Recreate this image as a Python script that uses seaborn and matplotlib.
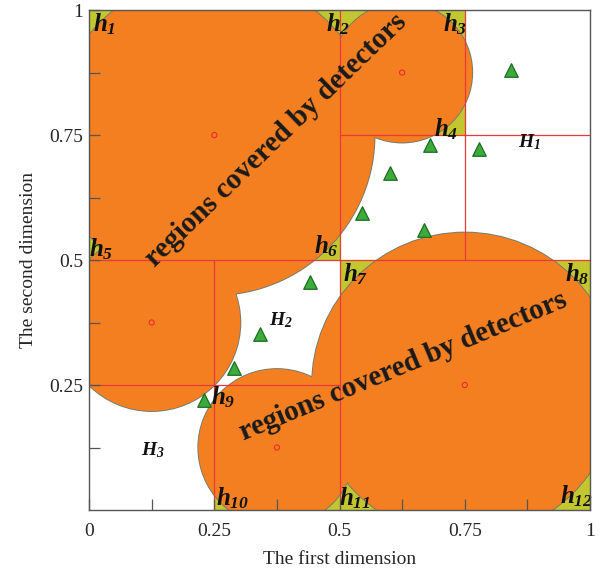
import numpy as np
import pandas as pd
import matplotlib
matplotlib.use("Agg")
import matplotlib.pyplot as plt
from matplotlib.patches import Circle, Rectangle
import seaborn as sns

# Detector centres and radii
det_x = [0.25, 0.625, 0.125, 0.375, 0.75]
det_y = [0.75, 0.875, 0.375, 0.125, 0.25]
det_r = [0.32, 0.14, 0.177, 0.157, 0.305]

# Cells whose uncovered corners are holes (x0, y0, width, height)
cell_x0 = [0.0, 0.5, 0.5, 0.25]
cell_y0 = [0.5, 0.75, 0.0, 0.0]
cell_w = [0.5, 0.25, 0.5, 0.25]
cell_h = [0.5, 0.25, 0.5, 0.125]

# Samples (triangles)
samp_x = [0.842, 0.681, 0.778, 0.601, 0.545, 0.669, 0.442, 0.341, 0.289, 0.23]
samp_y = [0.880, 0.730, 0.722, 0.674, 0.594, 0.560, 0.456, 0.352, 0.284, 0.220]

# Partition lines: (x0, x1, y0, y1)
seg_x0 = [0.5, 0.0, 0.5, 0.75, 0.0, 0.25]
seg_x1 = [0.5, 1.0, 1.0, 0.75, 0.5, 0.25]
seg_y0 = [0.0, 0.5, 0.75, 0.5, 0.25, 0.0]
seg_y1 = [1.0, 0.5, 0.75, 1.0, 0.25, 0.5]

# Hole labels
hole_lbl = [r"$h_{1}$", r"$h_{2}$", r"$h_{3}$", r"$h_{4}$", r"$h_{5}$", r"$h_{6}$",
            r"$h_{7}$", r"$h_{8}$", r"$h_{9}$", r"$h_{10}$", r"$h_{11}$", r"$h_{12}$"]
hole_x = [0.030, 0.497, 0.730, 0.713, 0.024, 0.473, 0.533, 0.975, 0.268, 0.287, 0.531, 0.974]
hole_y = [0.972, 0.972, 0.972, 0.762, 0.522, 0.528, 0.472, 0.472, 0.226, 0.024, 0.024, 0.028]

big_lbl = [r"$H_{1}$", r"$H_{2}$", r"$H_{3}$"]
big_x = [0.880, 0.383, 0.127]
big_y = [0.735, 0.380, 0.120]

xticks = [0, 0.25, 0.5, 0.75, 1]
xtick_lbl = ["0", "0.25", "0.5", "0.75", "1"]
yticks = [0.25, 0.5, 0.75, 1]
ytick_lbl = ["0.25", "0.5", "0.75", "1"]

sns.set_theme(style="white")
plt.rcParams["font.family"] = ["Liberation Serif", "DejaVu Serif"]
plt.rcParams["mathtext.fontset"] = "custom"
plt.rcParams["mathtext.it"] = "Liberation Serif:italic:bold"
plt.rcParams["mathtext.rm"] = "Liberation Serif:italic:bold"
plt.rcParams["mathtext.bf"] = "Liberation Serif:italic:bold"

ORANGE = "#f47f21"
YELLOW = "#c3c72f"
EDGE = "#707a70"
RED = "#e8383a"

fig = plt.figure(figsize=(6.02, 5.78), dpi=100)
ax = fig.add_axes([0.148, 0.1176, 0.832, 0.865])

for x0, y0, w, h in zip(cell_x0, cell_y0, cell_w, cell_h):
    ax.add_patch(Rectangle((x0, y0), w, h, facecolor=YELLOW, edgecolor="none", zorder=1))

for cx, cy, r in zip(det_x, det_y, det_r):
    ax.add_patch(Circle((cx, cy), r, facecolor=ORANGE, edgecolor=EDGE, lw=1.3, zorder=2))
for cx, cy, r in zip(det_x, det_y, det_r):
    ax.add_patch(Circle((cx, cy), r, facecolor=ORANGE, edgecolor="none", zorder=3))

for a, b, c, d in zip(seg_x0, seg_x1, seg_y0, seg_y1):
    ax.plot([a, b], [c, d], color=RED, lw=0.9, zorder=4)

centres = pd.DataFrame({"x": det_x, "y": det_y})
sns.scatterplot(data=centres, x="x", y="y", ax=ax, marker="o", s=14,
                facecolor="none", edgecolor="#ee2a2a", linewidth=0.8, zorder=5)

samples = pd.DataFrame({"x": samp_x, "y": samp_y})
sns.scatterplot(data=samples, x="x", y="y", ax=ax, marker="^", s=95,
                color="#3cab3c", edgecolor="#1d6b22", linewidth=0.9, zorder=6)

for t, x, y in zip(hole_lbl, hole_x, hole_y):
    ax.text(x, y, t, fontsize=18, ha="center", va="center", color="#111111", zorder=7)
for t, x, y in zip(big_lbl, big_x, big_y):
    ax.text(x, y, t, fontsize=14, ha="center", va="center", color="#111111", zorder=7)

ax.text(0.374, 0.740, "regions covered by detectors", rotation=44, rotation_mode="anchor",
        ha="center", va="center", fontsize=21, fontweight="bold", color="#1a1a1a", zorder=7)
ax.text(0.628, 0.288, "regions covered by detectors", rotation=22.5, rotation_mode="anchor",
        ha="center", va="center", fontsize=21, fontweight="bold", color="#1a1a1a", zorder=7)

ax.set_xlim(0, 1)
ax.set_ylim(0, 1)
ax.set_xticks(xticks)
ax.set_xticklabels(xtick_lbl)
ax.set_yticks(yticks)
ax.set_yticklabels(ytick_lbl)
ax.set_xticks([0.125, 0.375, 0.625, 0.875], minor=True)
ax.set_yticks([0.125, 0.375, 0.625, 0.875], minor=True)
ax.tick_params(which="both", direction="in", length=8, width=0.9, color="#555555",
               bottom=True, left=True, top=False, right=False)
ax.tick_params(axis="x", which="major", labelsize=14, pad=9)
ax.tick_params(axis="y", which="major", labelsize=14, pad=4)
ax.set_xlabel("The first dimension", fontsize=14, labelpad=8)
ax.set_ylabel("The second dimension", fontsize=14, labelpad=9)
ax.xaxis.set_zorder(8)
ax.yaxis.set_zorder(8)
for s in ax.spines.values():
    s.set_color("#555555")
    s.set_linewidth(1.0)
    s.set_zorder(8)

fig.savefig("out.png", dpi=100)
